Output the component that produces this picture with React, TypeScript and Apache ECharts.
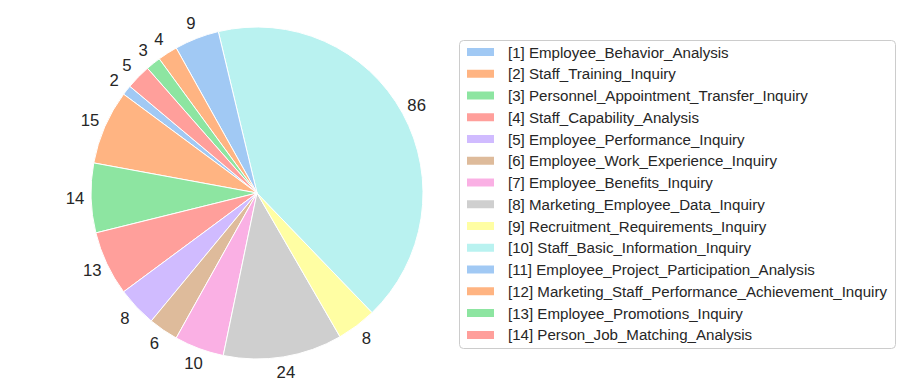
import React, { useEffect, useRef } from "react";
import * as echarts from "echarts";

const categories = [
  "[1] Employee_Behavior_Analysis",
  "[2] Staff_Training_Inquiry",
  "[3] Personnel_Appointment_Transfer_Inquiry",
  "[4] Staff_Capability_Analysis",
  "[5] Employee_Performance_Inquiry",
  "[6] Employee_Work_Experience_Inquiry",
  "[7] Employee_Benefits_Inquiry",
  "[8] Marketing_Employee_Data_Inquiry",
  "[9] Recruitment_Requirements_Inquiry",
  "[10] Staff_Basic_Information_Inquiry",
  "[11] Employee_Project_Participation_Analysis",
  "[12] Marketing_Staff_Performance_Achievement_Inquiry",
  "[13] Employee_Promotions_Inquiry",
  "[14] Person_Job_Matching_Analysis",
];

const values = [2, 15, 14, 13, 8, 6, 10, 24, 8, 86, 9, 4, 3, 5];

const palette = [
  "#a1c9f4", "#ffb482", "#8de5a1", "#ff9f9b", "#d0bbff",
  "#debb9b", "#fab0e4", "#cfcfcf", "#fffea3", "#b9f2f0",
];

const FONT = "'Liberation Sans', Arial, Helvetica, sans-serif";
const TEXT = "#262626";

export default function App() {
  const ref = useRef<HTMLDivElement>(null);

  useEffect(() => {
    if (!ref.current) return;
    const chart = echarts.init(ref.current, null, { renderer: "svg" });
    const data = categories.map((name, i) => ({
      name,
      value: values[i],
      itemStyle: { color: palette[i % palette.length] },
    }));
    const labelData = categories.map((name, i) => ({ name, value: values[i] }));

    chart.setOption({
      animation: false,
      backgroundColor: "#ffffff",
      graphic: [
        {
          type: "rect",
          z: 0,
          shape: { x: 459.5, y: 40.5, width: 436, height: 308, r: 4 },
          style: { fill: "rgba(255,255,255,0.8)", stroke: "#cccccc", lineWidth: 1 },
        },
      ],
      legend: {
        orient: "vertical",
        left: 465,
        top: 43,
        padding: 0,
        itemGap: 3.76,
        itemWidth: 29,
        itemHeight: 10,
        icon: "rect",
        selectedMode: false,
        data: categories,
        textStyle: {
          fontFamily: FONT,
          fontSize: 15.1,
          color: TEXT,
          lineHeight: 18,
          padding: [0, 0, 0, 8],
        },
        z: 5,
      },
      series: [
        {
          type: "pie",
          center: [257, 193],
          radius: 166,
          startAngle: 140,
          clockwise: false,
          avoidLabelOverlap: false,
          data,
          itemStyle: { borderColor: "#ffffff", borderWidth: 1 },
          label: { show: false },
          labelLine: { show: false },
          emphasis: { disabled: true },
        },
        {
          type: "pie",
          center: [257, 193],
          radius: 358,
          startAngle: 140,
          clockwise: false,
          avoidLabelOverlap: false,
          silent: true,
          data: labelData,
          itemStyle: { color: "rgba(0,0,0,0)", borderWidth: 0 },
          label: {
            show: true,
            position: "inside",
            formatter: "{c}",
            fontFamily: FONT,
            fontSize: 16.7,
            color: TEXT,
          },
          labelLine: { show: false },
          emphasis: { disabled: true },
          z: 3,
        },
      ],
    });
    return () => chart.dispose();
  }, []);

  return (
    <div
      ref={ref}
      style={{ position: "fixed", left: 0, top: 0, width: 905, height: 391 }}
    />
  );
}
